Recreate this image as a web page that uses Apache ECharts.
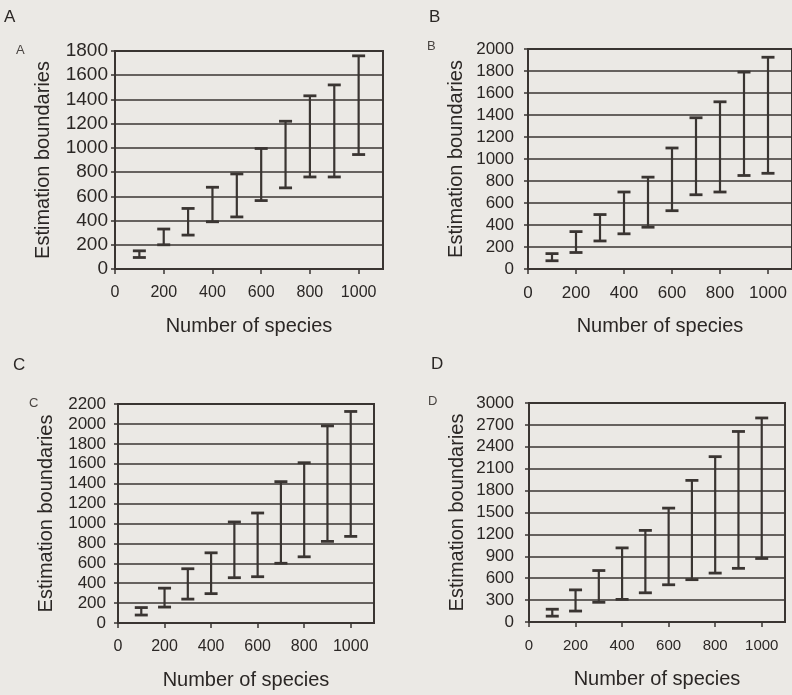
<!DOCTYPE html>
<html>
<head>
<meta charset="utf-8">
<script src="https://cdn.jsdelivr.net/npm/echarts@6/dist/echarts.min.js"></script>
<style>
html,body{margin:0;padding:0;background:#ebe9e5;}
#chart{width:792px;height:695px;}
</style>
</head>
<body>
<div id="chart"></div>
<script>
// ---- data ----
const speciesCounts = [100, 200, 300, 400, 500, 600, 700, 800, 900, 1000];
const xTickLabels = [0, 200, 400, 600, 800, 1000];

const aLow  = [95, 200, 280, 390, 430, 565, 670, 760, 760, 945];
const aHigh = [150, 330, 500, 675, 785, 995, 1220, 1430, 1520, 1760];

const bLow  = [75, 150, 255, 320, 380, 530, 675, 700, 850, 870];
const bHigh = [140, 340, 495, 700, 835, 1100, 1375, 1520, 1790, 1925];

const cLow  = [80, 160, 240, 295, 455, 465, 600, 665, 820, 870];
const cHigh = [155, 350, 545, 705, 1015, 1105, 1420, 1610, 1980, 2125];

const dLow  = [80, 150, 270, 310, 400, 510, 580, 670, 735, 870];
const dHigh = [175, 440, 705, 1015, 1255, 1560, 1940, 2265, 2610, 2795];

const yMaxes = [1800, 2000, 2200, 3000];
const yIntervals = [200, 200, 200, 300];
const panelLetters = ['A', 'B', 'C', 'D'];
const xTitle = 'Number of species';
const yTitle = 'Estimation boundaries';

// ---- styling / layout ----
const INK = '#2b2725';
const LINE = '#3a3532';
const FONT = '"Liberation Sans", Arial, sans-serif';

const grids = [
  {left: 115, top: 51, width: 268, height: 218},
  {left: 528, top: 49, width: 267, height: 220},
  {left: 118, top: 404, width: 256, height: 219},
  {left: 529, top: 403, width: 256, height: 219}
];
const yLabelFont = [19, 17, 17, 17];
const xLabelFont = [16, 17, 16, 15];
const yLabelMargin = [7, 14, 12, 15];

const lows = [aLow, bLow, cLow, dLow];
const highs = [aHigh, bHigh, cHigh, dHigh];

const plain = v => String(v);

const chart = echarts.init(document.getElementById('chart'), null, {renderer: 'canvas'});

const option = {
  backgroundColor: '#ebe9e5',
  animation: false,
  grid: grids.map(g => Object.assign({show: true, borderColor: LINE, borderWidth: 2, backgroundColor: 'transparent'}, g)),
  xAxis: grids.map((g, i) => ({
    type: 'value', gridIndex: i, min: 0, max: 1100, interval: 100,
    name: xTitle, nameLocation: 'middle', nameGap: 47,
    nameTextStyle: {fontFamily: FONT, fontSize: 20, color: INK},
    axisLine: {show: true, onZero: false, lineStyle: {color: LINE, width: 2}},
    axisTick: {show: true, inside: false, length: 5, customValues: xTickLabels, lineStyle: {color: LINE, width: 1.5}},
    axisLabel: {show: true, margin: 16, customValues: xTickLabels, formatter: plain, fontFamily: FONT, fontSize: xLabelFont[i], color: INK},
    splitLine: {show: false}
  })),
  yAxis: grids.map((g, i) => ({
    type: 'value', gridIndex: i, min: 0, max: yMaxes[i], interval: yIntervals[i],
    name: yTitle, nameLocation: 'middle', nameGap: 62,
    nameTextStyle: {fontFamily: FONT, fontSize: 20, color: INK},
    axisLine: {show: true, lineStyle: {color: LINE, width: 2}},
    axisTick: {show: true, inside: false, length: 4, lineStyle: {color: LINE, width: 1.5}},
    axisLabel: {show: true, margin: yLabelMargin[i], formatter: plain, fontFamily: FONT, fontSize: yLabelFont[i], color: INK},
    splitLine: {show: true, lineStyle: {color: LINE, width: 1.5}}
  })),
  series: grids.map((g, i) => ({
    type: 'custom',
    xAxisIndex: i, yAxisIndex: i,
    data: speciesCounts.map((x, k) => [x, lows[i][k], highs[i][k]]),
    renderItem: function (params, api) {
      const x = api.value(0);
      const top = api.coord([x, api.value(2)]);
      const bot = api.coord([x, api.value(1)]);
      const hw = 6.5;
      return {
        type: 'group',
        children: [
          {type: 'line', shape: {x1: top[0], y1: top[1], x2: bot[0], y2: bot[1]}, style: {stroke: LINE, lineWidth: 2.2}},
          {type: 'line', shape: {x1: top[0] - hw, y1: top[1], x2: top[0] + hw, y2: top[1]}, style: {stroke: LINE, lineWidth: 2.8}},
          {type: 'line', shape: {x1: bot[0] - hw, y1: bot[1], x2: bot[0] + hw, y2: bot[1]}, style: {stroke: LINE, lineWidth: 2.8}}
        ]
      };
    }
  })),
  graphic: [
    {type: 'text', left: 4, top: 9, style: {text: panelLetters[0], font: '17px ' + FONT, fill: INK}},
    {type: 'text', left: 429, top: 9, style: {text: panelLetters[1], font: '17px ' + FONT, fill: INK}},
    {type: 'text', left: 13, top: 357, style: {text: panelLetters[2], font: '17px ' + FONT, fill: INK}},
    {type: 'text', left: 431, top: 356, style: {text: panelLetters[3], font: '17px ' + FONT, fill: INK}},
    {type: 'text', left: 16, top: 44, style: {text: panelLetters[0], font: '13px ' + FONT, fill: '#4a4542'}},
    {type: 'text', left: 427, top: 40, style: {text: panelLetters[1], font: '13px ' + FONT, fill: '#4a4542'}},
    {type: 'text', left: 29, top: 397, style: {text: panelLetters[2], font: '13px ' + FONT, fill: '#4a4542'}},
    {type: 'text', left: 428, top: 395, style: {text: panelLetters[3], font: '13px ' + FONT, fill: '#4a4542'}}
  ]
};
chart.setOption(option);
</script>
</body>
</html>
